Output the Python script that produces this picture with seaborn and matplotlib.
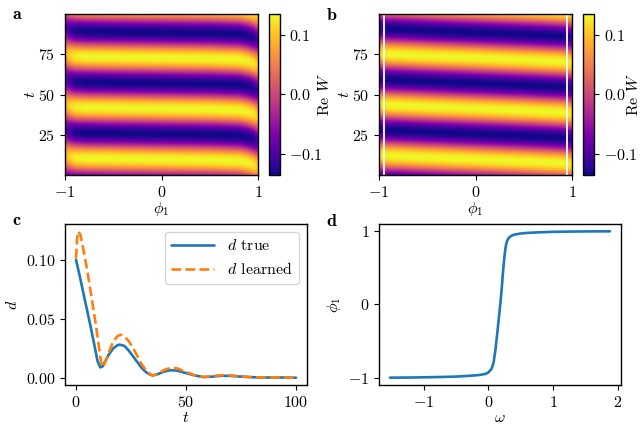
import numpy as np
import pandas as pd
import matplotlib
matplotlib.use("Agg")
import matplotlib.pyplot as plt
import seaborn as sns

# ---- panel a/b: Re W field ----
phi_grid = np.linspace(-1, 1, 241)
t_grid = np.linspace(0.5, 100, 241)
band_period = 31.5          # distance between yellow bands in t
first_peak_t = 10.0         # first yellow band (centre of the panel)
amp_max = 0.135

# band displacement in t near phi1 = +-1
shift_phi = [-1.0, -0.95, -0.9, -0.8, -0.5, 0.0, 0.5, 0.8, 0.9, 0.95, 1.0]
shift_a = [2.5, 1.6, 1.0, 0.7, 0.4, 0.0, -0.4, -1.0, -2.2, -3.3, -4.5]
amp_a = [0.65, 0.85, 0.95, 1.0, 1.0, 1.0, 1.0, 1.0, 0.97, 0.92, 0.75]
shift_b = [3.0, 2.4, 2.2, 2.0, 1.2, 0.0, -1.2, -2.0, -2.3, -2.6, -3.2]
amp_b = [0.85, 0.95, 1.0, 1.0, 1.0, 1.0, 1.0, 1.0, 1.0, 0.95, 0.85]
white_lines_b = [-0.948, 0.948]

# ---- panel c: distance d(t) ----
t_true = [0, 2, 4, 6, 8, 9.8, 11, 12, 13, 15, 17, 19, 20, 22, 24, 26, 28, 30,
          32, 34, 35, 37, 40, 43, 46, 50, 54, 58, 62, 66, 70, 75, 80, 85, 90, 95, 100]
d_true = [0.100, 0.0835, 0.066, 0.049, 0.031, 0.014, 0.0088, 0.0095, 0.013,
          0.020, 0.025, 0.0278, 0.028, 0.027, 0.023, 0.018, 0.013, 0.008,
          0.0045, 0.0024, 0.002, 0.003, 0.0052, 0.0065, 0.006, 0.004, 0.002,
          0.0006, 0.001, 0.0017, 0.0016, 0.001, 0.0005, 0.0002, 0.0003, 0.0002, 0.0001]
t_learned = [0, 0.5, 1, 2, 3, 5, 7, 9, 10.5, 11.5, 12, 13, 15, 17, 19, 20.5, 22,
             24, 26, 28, 30, 32, 34, 35, 37, 40, 43, 46, 50, 54, 58, 62, 66, 70,
             75, 80, 85, 90, 95, 100]
d_learned = [0.101, 0.118, 0.124, 0.121, 0.112, 0.092, 0.069, 0.045, 0.025,
             0.012, 0.009, 0.012, 0.022, 0.031, 0.0355, 0.0365, 0.035, 0.031,
             0.025, 0.018, 0.011, 0.006, 0.0027, 0.002, 0.003, 0.0065, 0.0085,
             0.008, 0.005, 0.002, 0.0007, 0.0015, 0.0022, 0.002, 0.0012, 0.0005,
             0.0003, 0.0004, 0.0003, 0.0002]

# ---- panel d: phi1(omega) ----
omega = [-1.52, -1.2, -1.0, -0.7, -0.5, -0.3, -0.15, -0.05, 0.0, 0.05, 0.08,
         0.11, 0.14, 0.17, 0.19, 0.21, 0.23, 0.25, 0.27, 0.29, 0.32, 0.36,
         0.4, 0.5, 0.6, 0.8, 1.0, 1.3, 1.6, 1.88]
phi1 = [-1.0, -0.998, -0.995, -0.99, -0.985, -0.975, -0.965, -0.95, -0.93,
        -0.88, -0.8, -0.62, -0.38, -0.12, 0.05, 0.25, 0.48, 0.66, 0.8, 0.87,
        0.915, 0.94, 0.955, 0.97, 0.978, 0.987, 0.993, 0.997, 0.999, 1.0]


def field(shift, amp):
    s = np.interp(phi_grid, shift_phi, shift)
    a = np.interp(phi_grid, shift_phi, amp) * amp_max
    P, T = np.meshgrid(s, t_grid)
    A, _ = np.meshgrid(a, t_grid)
    return A * np.cos(2 * np.pi * (T - first_peak_t - P) / band_period)


sns.set_style("ticks", {"axes.edgecolor": "black", "xtick.color": "black",
                        "ytick.color": "black", "text.color": "black",
                        "axes.labelcolor": "black"})
plt.rcParams["font.family"] = "serif"
plt.rcParams["font.serif"] = ["cmr10", "DejaVu Serif"]
plt.rcParams["mathtext.fontset"] = "cm"
plt.rcParams["axes.formatter.use_mathtext"] = True
plt.rcParams["font.size"] = 11.5
plt.rcParams["axes.linewidth"] = 1.0

fig = plt.figure(figsize=(6.4, 4.44), dpi=100)

ax_a = fig.add_axes([0.1016, 0.6059, 0.3016, 0.3626])
cax_a = fig.add_axes([0.4208, 0.6059, 0.0160, 0.3626])
ax_b = fig.add_axes([0.5922, 0.6059, 0.3016, 0.3626])
cax_b = fig.add_axes([0.9115, 0.6059, 0.0165, 0.3626])
ax_c = fig.add_axes([0.1016, 0.1329, 0.378, 0.3626])
ax_d = fig.add_axes([0.5922, 0.1329, 0.378, 0.3626])

for ax, cax, shift, amp, cpad in [(ax_a, cax_a, shift_a, amp_a, -4),
                                  (ax_b, cax_b, shift_b, amp_b, -8)]:
    im = ax.imshow(field(shift, amp), origin="lower", aspect="auto",
                   cmap="plasma", vmin=-0.136, vmax=0.136,
                   extent=[-1, 1, t_grid[0], t_grid[-1]],
                   interpolation="bilinear")
    ax.set_xticks([-1, 0, 1])
    ax.set_yticks([25, 50, 75])
    ax.set_xlabel(r"$\phi_1$", labelpad=0)
    ax.set_ylabel(r"$t$", labelpad=0)
    cb = fig.colorbar(im, cax=cax, ticks=[-0.1, 0.0, 0.1])
    cb.set_label(r"Re $W$", labelpad=cpad)
    cb.outline.set_linewidth(1.0)

for x in white_lines_b:
    ax_b.axvline(x, color="white", lw=1.3)

df_true = pd.DataFrame({"t": t_true, "d": d_true})
df_learned = pd.DataFrame({"t": t_learned, "d": d_learned})
sns.lineplot(data=df_true, x="t", y="d", ax=ax_c, color="#1f77b4", lw=1.9,
             label=r"$d$ true")
sns.lineplot(data=df_learned, x="t", y="d", ax=ax_c, color="#ff7f0e", lw=1.9,
             linestyle="--", label=r"$d$ learned")
ax_c.set_xticks([0, 50, 100])
ax_c.set_yticks([0.0, 0.05, 0.10])
ax_c.set_xlabel(r"$t$", labelpad=1)
ax_c.set_ylabel(r"$d$")
ax_c.legend(loc="upper right", handlelength=2.7, fancybox=True, framealpha=0.8)

df_d = pd.DataFrame({"omega": omega, "phi1": phi1})
sns.lineplot(data=df_d, x="omega", y="phi1", ax=ax_d, color="#1f77b4", lw=1.9)
ax_d.set_xticks([-1, 0, 1, 2])
ax_d.set_yticks([-1, 0, 1])
ax_d.set_xlabel(r"$\omega$", labelpad=1)
ax_d.set_ylabel(r"$\phi_1$")

for label, x, y in [("a", 0.018, 0.985), ("b", 0.51, 0.985),
                    ("c", 0.018, 0.52), ("d", 0.51, 0.52)]:
    fig.text(x, y, r"$\mathbf{%s}$" % label, fontsize=13, ha="left", va="top")

fig.savefig("out.png", dpi=100)
